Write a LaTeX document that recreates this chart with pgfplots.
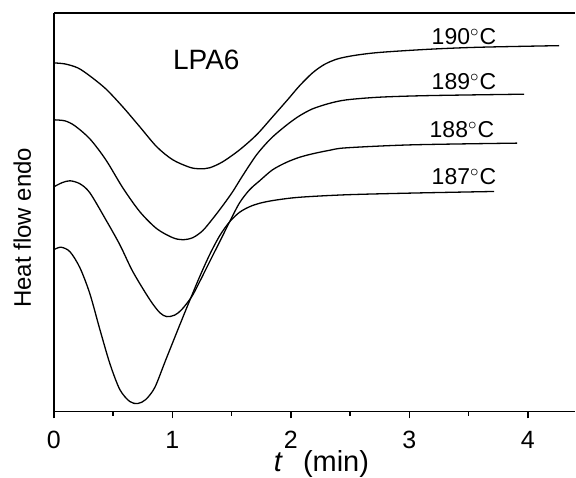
\documentclass[border=0pt]{standalone}
\usepackage{fontspec}
\setmainfont{Liberation Sans}
\usepackage{pgfplots}
\pgfplotsset{compat=1.18}
\begin{document}
\begin{tikzpicture}
\begin{axis}[
  scale only axis, width=261pt, height=199.5pt,
  xmin=0, xmax=4.4, ymin=0, ymax=399,
  axis x line=box, axis y line=left,
  y axis line style={-},
  axis line style={line width=0.7pt},
  ytick=\empty,
  xtick={0,1,2,3,4}, minor x tick num=1,
  xtick pos=bottom, tick align=outside,
  major tick length=3.5pt, minor tick length=2.2pt,
  tick style={line width=0.7pt, black},
  /pgf/number format/assume math mode=true,
  xticklabel style={font=\fontsize{12.5}{14}\selectfont, anchor=base, yshift=-15pt, inner sep=1pt},
  xlabel={(min)},
  xlabel style={at={(axis description cs:0.477,0)}, anchor=base west, yshift=-30pt, inner sep=0pt, font=\fontsize{14.5}{16}\selectfont},
  ylabel={Heat flow endo},
  ylabel style={at={(axis description cs:-0.044,0.461)}, rotate=0, anchor=base, font=\fontsize{12}{14}\selectfont},
  curve/.style={black, no markers, line width=0.65pt, smooth, tension=0.5},
  clip=false,
]
% 190 C
\addplot[curve] coordinates {
(0,349) (0.093,348) (0.202,344) (0.303,336) (0.438,323) (0.581,305) (0.725,285)
(0.868,265) (1.003,252) (1.146,244.5) (1.230,243) (1.314,244) (1.424,250)
(1.567,262) (1.710,277) (1.845,295) (1.971,312) (2.072,326) (2.182,339)
(2.283,347.5) (2.393,353) (2.536,356.5) (2.747,359.5) (3.168,362.7) (3.589,364.7) (4.263,366.3)
};
% 189 C
\addplot[curve] coordinates {
(0,292) (0.093,291) (0.177,286) (0.303,273) (0.438,252) (0.581,224) (0.725,200)
(0.868,183) (1.003,174) (1.087,172) (1.171,174) (1.255,181) (1.340,193) (1.424,206)
(1.508,220) (1.592,236) (1.710,257) (1.820,272) (1.904,281) (1.988,289) (2.072,296)
(2.182,303) (2.325,308.5) (2.468,312) (2.747,314.7) (3.168,316.3) (3.968,317.7)
};
% 188 C
\addplot[curve] coordinates {
(0,225) (0.067,229) (0.135,231) (0.219,228) (0.303,219) (0.438,192) (0.556,167)
(0.666,140) (0.809,112) (0.893,99) (0.952,95) (1.019,96.5) (1.078,102) (1.163,115)
(1.230,130) (1.314,150) (1.399,170) (1.483,190) (1.567,209) (1.651,222) (1.736,231)
(1.845,242) (1.963,249.5) (2.072,254.5) (2.182,258) (2.325,261.5) (2.468,264)
(3.024,267) (3.909,268.7)
};
% 187 C
\addplot[curve] coordinates {
(0,162) (0.059,164.5) (0.135,160) (0.219,144) (0.303,118) (0.388,82) (0.472,48)
(0.556,22) (0.640,10) (0.708,8) (0.775,12) (0.851,24) (0.935,49) (1.019,74)
(1.104,99) (1.163,116) (1.230,135) (1.314,157) (1.399,176) (1.483,190) (1.567,199.5)
(1.651,205) (1.736,208.5) (1.862,211.5) (2.072,214.5) (2.468,217) (3.024,218.7) (3.715,220.3)
};
\node[anchor=base east, inner sep=0pt, yshift=-30pt, font=\fontsize{14.5}{16}\selectfont] at (axis description cs:0.440,0) {\textit{t}};
\node[anchor=base west, inner sep=0pt, font=\fontsize{14}{16}\selectfont] at (axis cs:1.003,342) {LPA6};
\node[anchor=base west, inner sep=0pt, font=\fontsize{11.5}{13}\selectfont] at (axis cs:3.185,367) {190$^{\circ}$C};
\node[anchor=base west, inner sep=0pt, font=\fontsize{11.5}{13}\selectfont] at (axis cs:3.185,322) {189$^{\circ}$C};
\node[anchor=base west, inner sep=0pt, font=\fontsize{11.5}{13}\selectfont] at (axis cs:3.168,274) {188$^{\circ}$C};
\node[anchor=base west, inner sep=0pt, font=\fontsize{11.5}{13}\selectfont] at (axis cs:3.185,227) {187$^{\circ}$C};
\end{axis}
\path (current axis.north) ++(0,6.5pt);
\path (current axis.west) ++(-27pt,0);
\path (current axis.south) ++(0,-32pt);
\end{tikzpicture}
\end{document}
